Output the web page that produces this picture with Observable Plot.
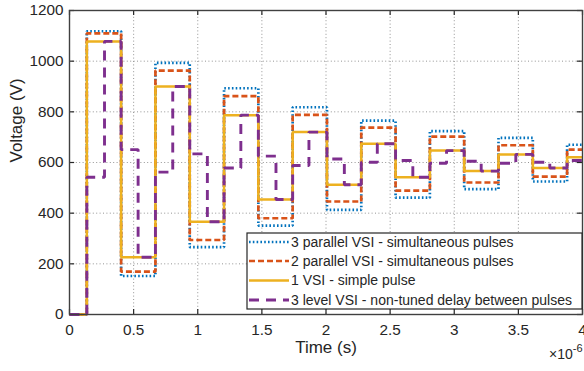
<!DOCTYPE html>
<html><head><meta charset="utf-8">
<script src="https://cdn.jsdelivr.net/npm/d3@7"></script>
<script src="https://cdn.jsdelivr.net/npm/@observablehq/plot@0.6"></script>
<style>
body{margin:0;background:#fff;}
#chart{position:relative;width:584px;height:371px;overflow:hidden;background:#fff;}
</style></head><body><div id="chart"></div>
<script>
// switching instants (microseconds) shared by the three single-step waveforms
const switchTimes = [0, 0.135, 0.4025, 0.67, 0.9375, 1.205, 1.4725, 1.74, 2.0075, 2.275, 2.5425, 2.81, 3.0775, 3.345, 3.6125, 3.88];
const endTime = 4;
const vsi3Parallel = [0, 1118, 152, 993, 266, 893, 351, 818, 413, 765, 461, 724, 495, 697, 525, 670];
const vsi2Parallel = [0, 1110, 169, 963, 294, 862, 380, 788, 446, 738, 489, 702, 521, 668, 544, 651];
const vsi1Simple   = [0, 1078, 226, 900, 366, 787, 454, 720, 512, 674, 542, 647, 566, 632, 578, 621];
// 3 level VSI: own step instants and levels
const level3Times  = [0, 0.135, 0.273, 0.4025, 0.535, 0.67, 0.805, 0.9375, 1.075, 1.205, 1.336, 1.4725, 1.61, 1.74, 1.867, 2.0075, 2.143, 2.275, 2.40, 2.5425, 2.677, 2.81, 2.94, 3.0775, 3.21, 3.345, 3.48, 3.6125, 3.745, 3.88];
const level3Values = [0, 542, 1078, 651, 226, 562, 900, 634, 366, 578, 787, 625, 454, 588, 720, 614, 512, 601, 674, 608, 542, 597, 647, 605, 566, 597, 632, 601, 578, 608];

const seriesNames = [
  "3 parallel VSI - simultaneous pulses",
  "2 parallel VSI - simultaneous pulses",
  "1 VSI - simple pulse",
  "3 level VSI - non-tuned delay between pulses"
];
const seriesColors = ["#0072BD", "#D95319", "#EDB120", "#7E2F8E"];
const seriesDash = ["1.6,2.2", "6,3", null, "10,7"];
const seriesWidth = [2.7, 2.7, 2.5, 2.9];

const xTicks = [0, 0.5, 1, 1.5, 2, 2.5, 3, 3.5, 4];
const yTicks = [0, 200, 400, 600, 800, 1000, 1200];

function steps(times, values) {
  const pts = times.map((t, i) => ({t, v: values[i]}));
  pts.push({t: endTime, v: values[values.length - 1]});
  return pts;
}
const seriesData = [
  steps(switchTimes, vsi3Parallel),
  steps(switchTimes, vsi2Parallel),
  steps(switchTimes, vsi1Simple),
  steps(level3Times, level3Values)
];

const W = 584, H = 371;
const mL = 69, mR = 2, mT = 10, mB = 57;
const font = "'Liberation Sans', Arial, Helvetica, sans-serif";
const ink = "#262626";

const lineMarks = seriesData.map((d, i) => Plot.line(d, {
  x: "t", y: "v", curve: "step-after",
  stroke: seriesColors[i], strokeWidth: seriesWidth[i],
  strokeDasharray: seriesDash[i] || undefined,
  strokeLinecap: "butt", strokeLinejoin: "miter"
}));

const plot = Plot.plot({
  width: W, height: H,
  marginLeft: mL, marginRight: mR, marginTop: mT, marginBottom: mB,
  style: {fontFamily: font, fontSize: "15.3px", color: ink, background: "#fff", overflow: "visible"},
  x: {domain: [0, 4]},
  y: {domain: [0, 1200]},
  marks: [
    Plot.gridX(xTicks.slice(1, -1), {stroke: "#8a8a8a", strokeOpacity: 0.9, strokeDasharray: "1,2.4"}),
    Plot.gridY(yTicks.slice(1, -1), {stroke: "#8a8a8a", strokeOpacity: 0.9, strokeDasharray: "1,2.4"}),
    Plot.ruleX(xTicks, {x: d => d, y1: 0, y2: 20, stroke: ink, strokeWidth: 1.2}),
    Plot.ruleX(xTicks, {x: d => d, y1: 1180, y2: 1200, stroke: ink, strokeWidth: 1.2}),
    Plot.ruleY(yTicks, {y: d => d, x1: 0, x2: 0.04, stroke: ink, strokeWidth: 1.2}),
    Plot.ruleY(yTicks, {y: d => d, x1: 3.96, x2: 4, stroke: ink, strokeWidth: 1.2}),
    ...lineMarks,
    Plot.frame({stroke: "#404040", strokeWidth: 1.4}),
    Plot.axisX(xTicks, {tickSize: 0, tickPadding: 10, tickFormat: d => String(d), label: null, fill: ink}),
    Plot.axisY(yTicks, {tickSize: 0, tickPadding: 6, tickFormat: d => String(d), label: null, fill: ink}),
    Plot.text(["Time (s)"], {frameAnchor: "bottom", dy: 38, fill: ink, fontSize: 17}),
    Plot.text(["Voltage (V)"], {frameAnchor: "left", dx: -53, rotate: -90, fill: ink, fontSize: 17})
  ]
});
document.getElementById("chart").appendChild(plot);

// exponent label and legend
const svg = d3.select(plot);
const ex = svg.append("text")
  .attr("x", 549).attr("y", 359).attr("text-anchor", "start")
  .attr("font-family", font).attr("font-size", 14).attr("fill", ink);
ex.append("tspan").text("×10");
ex.append("tspan").attr("dy", -7).attr("font-size", 11).text("-6");

const lg = svg.append("g").attr("text-anchor", "start");
const lx0 = 247, ly0 = 233, lw = W - mR - lx0, lh = 76;
lg.append("rect").attr("x", lx0).attr("y", ly0).attr("width", lw).attr("height", lh)
  .attr("fill", "#fff").attr("stroke", ink).attr("stroke-width", 1.2);
const rowY = [242, 261, 280.5, 300];
seriesNames.forEach((name, i) => {
  lg.append("line").attr("x1", lx0 + 2).attr("x2", lx0 + 42)
    .attr("y1", rowY[i]).attr("y2", rowY[i])
    .attr("stroke", seriesColors[i]).attr("stroke-width", seriesWidth[i])
    .attr("stroke-dasharray", seriesDash[i] || null);
  lg.append("text").attr("x", lx0 + 44).attr("y", rowY[i]).attr("dy", "0.35em")
    .attr("text-anchor", "start")
    .attr("font-family", font).attr("font-size", 14).attr("fill", ink).text(name);
});
</script></body></html>
